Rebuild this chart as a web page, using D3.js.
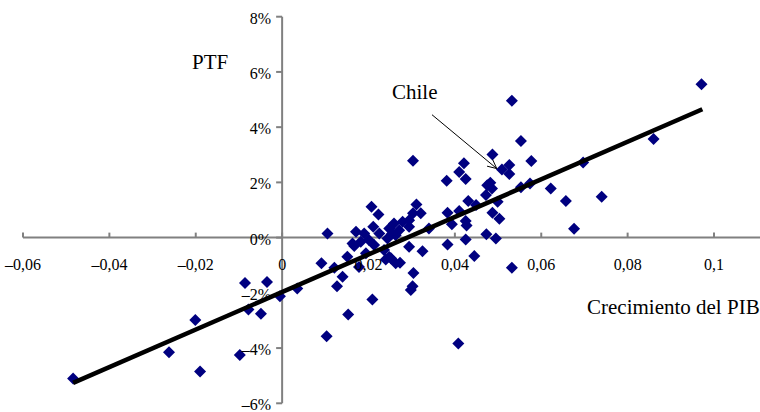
<!DOCTYPE html>
<html>
<head>
<meta charset="utf-8">
<script src="https://cdn.jsdelivr.net/npm/d3@7"></script>
<style>
  body { margin: 0; background: #fff; }
  svg text { font-family: 'Liberation Serif', 'DejaVu Serif', serif; fill: #000; }
</style>
</head>
<body>
<svg width="760" height="412" font-family="Liberation Serif, DejaVu Serif, serif"></svg>
<script>
// crecimiento del PIB (x) vs PTF (y, %)
var pib = [
  -0.0484, -0.0262, -0.0201, -0.0190, -0.0098, -0.0086, -0.0078, -0.0049, -0.0035, -0.0005,
  0.0035, 0.0091, 0.0105, 0.0103, 0.0121, 0.0127, 0.0140, 0.0153, 0.0151, 0.0209,
  0.0676, 0.0532, 0.0408, 0.0445, 0.0383, 0.0425, 0.0383, 0.0410, 0.0425, 0.0393,
  0.0427, 0.0473, 0.0495, 0.0487, 0.0503, 0.0325, 0.0304, 0.0302, 0.0298, 0.0273,
  0.0294, 0.0240, 0.0971, 0.0532, 0.0860, 0.0553, 0.0303, 0.0487, 0.0577, 0.0697,
  0.0421, 0.0410, 0.0425, 0.0381, 0.0509, 0.0526, 0.0526, 0.0482, 0.0486, 0.0472,
  0.0553, 0.0574, 0.0622, 0.0740, 0.0657, 0.0311, 0.0207, 0.0223, 0.0211, 0.0171,
  0.0190, 0.0225, 0.0248, 0.0259, 0.0163, 0.0182, 0.0201, 0.0213, 0.0244, 0.0263,
  0.0248, 0.0321, 0.0303, 0.0431, 0.0449, 0.0475, 0.0279, 0.0294, 0.0167, 0.0178,
  0.0236, 0.0194, 0.0263, 0.0340, 0.0294, 0.0271, 0.0255, 0.0499, 0.0252
];
var ptf = [
  -5.10, -4.15, -2.98, -4.85, -4.25, -1.64, -2.60, -2.76, -1.61, -2.12,
  -1.84, -0.93, 0.15, -3.57, -1.09, -1.76, -1.42, -2.78, -0.69, -2.24,
  0.32, -1.09, -3.83, -0.67, -0.25, -0.07, 0.90, 0.96, 0.60, 0.48,
  0.44, 0.12, -0.03, 0.90, 0.68, -0.49, -1.28, -1.76, -1.90, -0.91,
  -0.33, -0.79, 5.55, 4.96, 3.57, 3.50, 2.78, 3.01, 2.77, 2.72,
  2.69, 2.38, 2.12, 2.06, 2.47, 2.63, 2.30, 1.99, 1.78, 1.54,
  1.82, 1.96, 1.78, 1.48, 1.33, 1.20, 1.12, 0.84, 0.39, 0.21,
  0.15, 0.15, 0.33, 0.51, -0.21, -0.15, -0.09, -0.27, -0.03, 0.09,
  -0.70, 0.88, 0.88, 1.33, 1.18, 1.90, 0.57, 0.63, -0.30, -1.06,
  -0.45, -0.57, -0.93, 0.33, 0.39, 0.27, 0.15, 1.30, -0.75
];

// recta de tendencia
var trendX = [-0.0484, 0.0973];
var trendIntercept = -1.97;
var trendSlope = 68;

var xTicks = [-0.06, -0.04, -0.02, 0, 0.02, 0.04, 0.06, 0.08, 0.1];
var yTicks = [-6, -4, -2, 0, 2, 4, 6, 8];

var chile = {x: 0.0497, y: 2.5, tailX: 0.0347, tailY: 4.45};

var serif = "'Liberation Serif', 'DejaVu Serif', serif";
var svg = d3.select('svg');

var x = d3.scaleLinear().domain([-0.06, 0.1]).range([23, 714]);
var y = d3.scaleLinear().domain([-6, 8]).range([403.3, 16.7]);

var fmtX = function(d) {
  if (d === 0) return '0';
  var s = d3.format('.2f')(Math.abs(d)).replace('.', ',');
  if (s === '0,10') s = '0,1';
  return (d < 0 ? '\u2013' : '') + s;
};

// eje X
var xAxis = svg.append('g')
  .attr('transform', 'translate(0,' + y(0) + ')');
xAxis.append('line')
  .attr('x1', x(-0.06)).attr('x2', 760)
  .attr('stroke', '#808080').attr('stroke-width', 2);
xAxis.selectAll('.tick')
  .data(xTicks)
  .enter().append('line')
  .attr('x1', function(d) { return x(d); })
  .attr('x2', function(d) { return x(d); })
  .attr('y1', 0).attr('y2', -5)
  .attr('stroke', '#808080').attr('stroke-width', 2);

// eje Y
var yAxis = svg.append('g')
  .attr('transform', 'translate(' + x(0) + ',0)');
yAxis.append('line')
  .attr('y1', y(8)).attr('y2', y(-6))
  .attr('stroke', '#808080').attr('stroke-width', 2);
yAxis.selectAll('.tick')
  .data(yTicks)
  .enter().append('line')
  .attr('x1', -6).attr('x2', 0)
  .attr('y1', function(d) { return y(d); })
  .attr('y2', function(d) { return y(d); })
  .attr('stroke', '#808080').attr('stroke-width', 2);

// puntos
var pts = pib.map(function(d, i) { return {x: d, y: ptf[i]}; });
svg.append('g').selectAll('path')
  .data(pts)
  .enter().append('path')
  .attr('d', 'M0,-6L6,0L0,6L-6,0Z')
  .attr('transform', function(d) { return 'translate(' + x(d.x) + ',' + y(d.y) + ')'; })
  .attr('fill', '#000080');

// tendencia
svg.append('line')
  .attr('x1', x(trendX[0])).attr('y1', y(trendIntercept + trendSlope * trendX[0]))
  .attr('x2', x(trendX[1])).attr('y2', y(trendIntercept + trendSlope * trendX[1]))
  .attr('stroke', '#000').attr('stroke-width', 4.5);

// etiquetas de ejes
svg.append('g').selectAll('text')
  .data(xTicks)
  .enter().append('text')
  .attr('x', function(d) { return x(d); })
  .attr('y', 270)
  .attr('text-anchor', 'middle')
  .style('font-family', serif)
  .style('font-size', '16px')
  .text(fmtX);

svg.append('g').selectAll('text')
  .data(yTicks)
  .enter().append('text')
  .attr('x', x(0) - 11)
  .attr('y', function(d) { return y(d) + 7; })
  .attr('text-anchor', 'end')
  .style('font-family', serif)
  .style('font-size', '16px')
  .text(function(d) { return (d < 0 ? '\u2013' : '') + Math.abs(d) + '%'; });

svg.append('text')
  .attr('x', 192).attr('y', 68.5)
  .style('font-family', serif)
  .style('font-size', '21px')
  .text('PTF');

svg.append('text')
  .attr('x', 587).attr('y', 314)
  .style('font-family', serif)
  .style('font-size', '21px')
  .text('Crecimiento del PIB');

// Chile
svg.append('text')
  .attr('x', 392).attr('y', 98.5)
  .style('font-family', serif)
  .style('font-size', '21px')
  .text('Chile');

var ax1 = x(chile.tailX), ay1 = y(chile.tailY), ax2 = x(chile.x), ay2 = y(chile.y);
var ang = Math.atan2(ay2 - ay1, ax2 - ax1);
svg.append('line')
  .attr('x1', ax1).attr('y1', ay1).attr('x2', ax2).attr('y2', ay2)
  .attr('stroke', '#000').attr('stroke-width', 1);
var head = 10, spread = 0.45;
svg.append('path')
  .attr('d', 'M' + (ax2 - head * Math.cos(ang - spread)) + ',' + (ay2 - head * Math.sin(ang - spread)) +
    'L' + ax2 + ',' + ay2 +
    'L' + (ax2 - head * Math.cos(ang + spread)) + ',' + (ay2 - head * Math.sin(ang + spread)))
  .attr('fill', 'none').attr('stroke', '#000').attr('stroke-width', 1);
</script>
</body>
</html>
